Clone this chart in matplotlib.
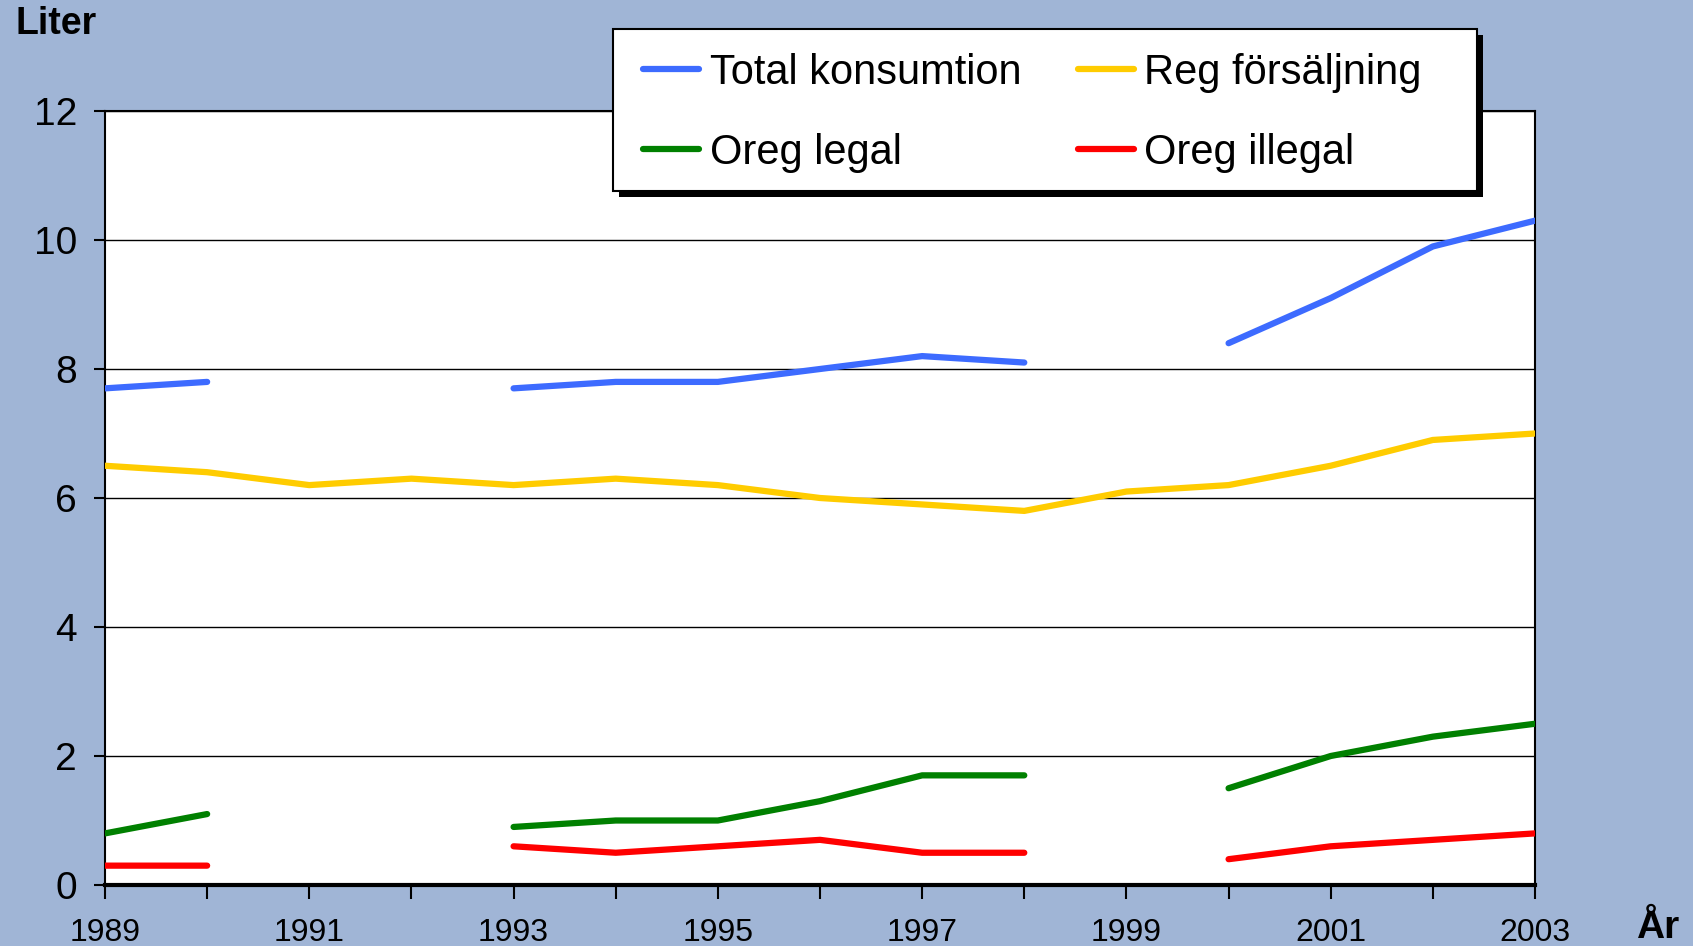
import numpy as np
import matplotlib
matplotlib.use("Agg")
import matplotlib.pyplot as plt
from matplotlib import font_manager
from matplotlib.patches import Rectangle

years = list(range(1989, 2004))
nan = np.nan
total = [7.7, 7.8, nan, nan, 7.7, 7.8, 7.8, 8.0, 8.2, 8.1, nan, 8.4, 9.1, 9.9, 10.3]
reg = [6.5, 6.4, 6.2, 6.3, 6.2, 6.3, 6.2, 6.0, 5.9, 5.8, 6.1, 6.2, 6.5, 6.9, 7.0]
oreg_legal = [0.8, 1.1, nan, nan, 0.9, 1.0, 1.0, 1.3, 1.7, 1.7, nan, 1.5, 2.0, 2.3, 2.5]
oreg_illegal = [0.3, 0.3, nan, nan, 0.6, 0.5, 0.6, 0.7, 0.5, 0.5, nan, 0.4, 0.6, 0.7, 0.8]
series_names = ["Total konsumtion", "Reg försäljning", "Oreg legal", "Oreg illegal"]
colors = ["#3D6BFF", "#FFCC00", "#008000", "#FF0000"]
ytick_vals = [0, 2, 4, 6, 8, 10, 12]
xtick_labels = ["1989", "1991", "1993", "1995", "1997", "1999", "2001", "2003"]

avail = {f.name for f in font_manager.fontManager.ttflist}
fam = "Liberation Sans Narrow" if "Liberation Sans Narrow" in avail else "Liberation Sans"
plt.rcParams["font.family"] = [fam, "DejaVu Sans"]

W, H = 1693, 946
bg = "#A0B5D6"
fig = plt.figure(figsize=(W/100, H/100), dpi=100, facecolor=bg)
ax = fig.add_axes([105/W, 1-885/H, (1535-105)/W, (885-111)/H])
ax.set_facecolor("white")

handles = []
for vals, name, c in zip([total, reg, oreg_legal, oreg_illegal], series_names, colors):
    h, = ax.plot(years, vals, color=c, lw=4.5, label=name, solid_capstyle="round", zorder=3)
    handles.append(h)

ax.set_xlim(1989, 2003)
ax.set_ylim(0, 12)
ax.set_yticks(ytick_vals)
ax.set_yticklabels([str(v) for v in ytick_vals], fontsize=28)
ax.set_xticks(years)
ax.set_xticklabels([str(y) if str(y) in xtick_labels else "" for y in years], fontsize=23)
ax.tick_params(axis="y", direction="out", length=8, width=1.5, pad=12, colors="black")
ax.tick_params(axis="x", direction="out", length=10, width=1.5, pad=14, colors="black")
ax.grid(axis="y", color="black", lw=1)
for s in ["left", "right", "top"]:
    ax.spines[s].set_linewidth(1.5)
ax.spines["bottom"].set_linewidth(3)

fig.text(15/W, 1-24/H, "Liter", fontsize=27, fontweight="bold", ha="left", va="center",
         family=["Liberation Sans", "DejaVu Sans"])
fig.text(1680/W, 1-928/H, "År", fontsize=28, fontweight="bold", ha="right", va="center",
         family=["Liberation Sans", "DejaVu Sans"])

# legend box with shadow
bx0, bx1, by0, by1 = 613, 1477, 29, 191
shadow = Rectangle(((bx0 + 6)/W, 1-(by1 + 6)/H), (bx1-bx0)/W, (by1-by0)/H, transform=fig.transFigure,
                   facecolor="black", edgecolor="none", zorder=20)
box = Rectangle((bx0/W, 1-by1/H), (bx1-bx0)/W, (by1-by0)/H, transform=fig.transFigure,
                facecolor="white", edgecolor="black", lw=1.5, zorder=21)
fig.patches.extend([shadow, box])

order = [0, 2, 1, 3]
leg = fig.legend([handles[i] for i in order], [series_names[i] for i in order],
                 loc="upper left", bbox_to_anchor=((bx0 + 30)/W, 1-(by0 + 24)/H),
                 ncol=2, fontsize=30, frameon=False,
                 handlelength=1.35, handletextpad=0.25, borderaxespad=0, borderpad=0,
                 labelspacing=0.95, columnspacing=1.35)
leg.set_zorder(30)

fig.savefig("out.png", dpi=100, facecolor=bg)
